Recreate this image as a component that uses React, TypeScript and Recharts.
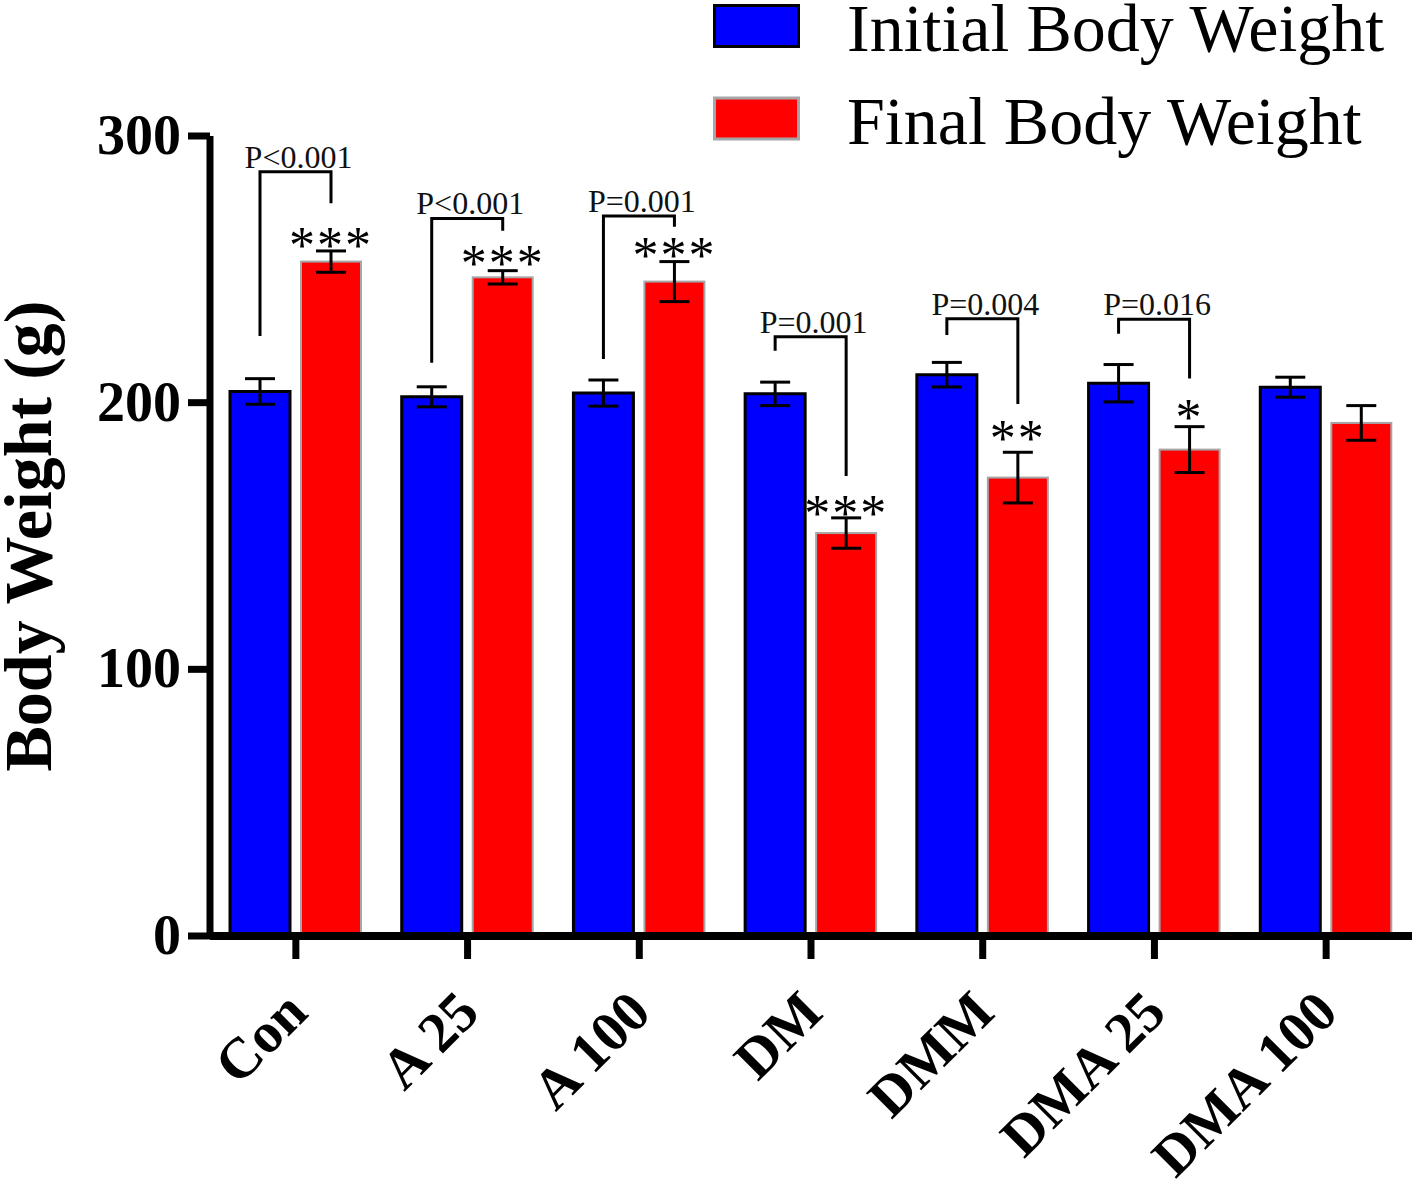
import React from 'react';
import { BarChart, Bar, XAxis, YAxis, ErrorBar, Legend } from 'recharts';

const groups = ['Con', 'A 25', 'A 100', 'DM', 'DMM', 'DMA 25', 'DMA 100'];
const initialWeight = [204.2, 202.2, 203.6, 203.3, 210.5, 207.3, 205.8];
const initialSem = [4.8, 3.75, 4.9, 4.4, 4.6, 7.0, 3.75];
const finalWeight = [252.9, 247.0, 245.4, 151.1, 171.9, 182.4, 192.4];
const finalSem = [4.0, 2.5, 7.5, 5.7, 9.5, 8.6, 6.5];
const pValueLabels = ['P<0.001', 'P<0.001', 'P=0.001', 'P=0.001', 'P=0.004', 'P=0.016', ''];
const bracketTop = [286.6, 269.1, 270.0, 224.7, 231.5, 231.3, null];
const bracketInitialEnd = [225.0, 215.0, 216.4, 219.5, 225.4, 225.8, null];
const bracketFinalEnd = [274.8, 264.5, 266.0, 172.5, 199.5, 209.1, null];
const starMarks = ['***', '***', '***', '***', '**', '*', ''];
const starLevel = [257.3, 250.4, 253.5, 156.8, 185.0, 192.8, null];
const yTicks = [0, 100, 200, 300];
const seriesOrder = ['initial', 'final'];

const data = groups.map((g, i) => ({
  group: g,
  initial: initialWeight[i],
  initialErr: initialSem[i],
  final: finalWeight[i],
  finalErr: finalSem[i],
  pLabel: pValueLabels[i],
  bTop: bracketTop[i],
  bInit: bracketInitialEnd[i],
  bFinal: bracketFinalEnd[i],
  stars: starMarks[i],
  starY: starLevel[i],
}));

const SERIF = '"Liberation Serif", "Times New Roman", serif';
const BLUE = '#0000ff';
const RED = '#ff0000';
const BAR_SIZE = 60;
const BAR_GAP = 11;

const FinalShape = (props: any) => {
  const { x, y, width, height, payload } = props;
  const base = y + height;
  const k = height / payload.final;
  const py = (v: number) => base - v * k;
  const cx = x + width / 2;
  const bx = cx - (BAR_SIZE + BAR_GAP);
  return (
    <g>
      <rect x={x} y={y} width={width} height={height} fill={RED} stroke="#a6a6a6" strokeWidth={2} />
      {payload.bTop != null && (
        <g>
          <path
            d={`M${bx},${py(payload.bInit)} V${py(payload.bTop)} H${cx} V${py(payload.bFinal)}`}
            fill="none"
            stroke="#000"
            strokeWidth={3}
          />
          <text
            x={(bx + cx) / 2 + 3}
            y={py(payload.bTop) - 4}
            textAnchor="middle"
            fontSize={32}
            fontFamily={SERIF}
            fill="#111"
          >
            {payload.pLabel}
          </text>
        </g>
      )}
      {payload.stars && payload.starY != null && (
        <text
          x={cx}
          y={py(payload.starY) + 13}
          textAnchor="middle"
          fontSize={52}
          letterSpacing={2}
          fontFamily={SERIF}
          fill="#000"
        >
          {payload.stars}
        </text>
      )}
    </g>
  );
};

const XTick = (props: any) => {
  const { x, y, payload } = props;
  const ax = x + 14;
  const ay = y + 54;
  return (
    <text
      x={ax}
      y={ay}
      textAnchor="end"
      transform={`rotate(-45, ${ax}, ${ay})`}
      fontSize={57}
      fontWeight="bold"
      fontFamily={SERIF}
      fill="#000"
    >
      {payload.value}
    </text>
  );
};

const YTick = (props: any) => {
  const { x, y, payload } = props;
  return (
    <text
      x={x - 5}
      y={y + 18}
      textAnchor="end"
      fontSize={56}
      fontWeight="bold"
      fontFamily={SERIF}
      fill="#000"
    >
      {payload.value}
    </text>
  );
};

const legendBorder: Record<string, string> = { initial: '#000', final: '#a6a6a6' };
const legendFill: Record<string, string> = { initial: BLUE, final: RED };

const LegendContent = (props: any) => {
  const payload = [...(props.payload || [])].sort(
    (a: any, b: any) => seriesOrder.indexOf(a.dataKey) - seriesOrder.indexOf(b.dataKey)
  );
  return (
    <svg width={718} height={180} style={{ display: 'block', overflow: 'visible' }}>
      {payload.map((e: any, i: number) => {
        const off = i * 92.5;
        const key = e.dataKey as string;
        return (
          <g key={i}>
            <rect
              x={14.5}
              y={5.5 + off}
              width={84}
              height={41}
              fill={legendFill[key] || e.color}
              stroke={legendBorder[key] || '#000'}
              strokeWidth={3}
            />
            <text x={147} y={51 + off} fontSize={68} fontFamily={SERIF} fill="#000">
              {e.value}
            </text>
          </g>
        );
      })}
    </svg>
  );
};

const YLabel = (props: any) => {
  const vb = props.viewBox || { x: 0, y: 136, width: 210, height: 800 };
  const cy = vb.y + vb.height / 2;
  const lx = 51;
  return (
    <text
      x={lx}
      y={cy}
      textAnchor="middle"
      transform={`rotate(-90, ${lx}, ${cy})`}
      fontSize={68}
      fontWeight="bold"
      fontFamily={SERIF}
      fill="#000"
    >
      Body Weight (g)
    </text>
  );
};

export default function App() {
  return (
    <div style={{ position: 'absolute', left: 0, top: 0, width: 1418, height: 1190, background: '#fff' }}>
      <BarChart
        width={1418}
        height={1190}
        data={data}
        margin={{ top: 136, right: 6, bottom: 0, left: 0 }}
        barSize={BAR_SIZE}
        barGap={BAR_GAP}
      >
        <XAxis
          dataKey="group"
          height={254}
          interval={0}
          tickSize={23}
          tickMargin={2}
          axisLine={{ stroke: '#000', strokeWidth: 8 }}
          tickLine={{ stroke: '#000', strokeWidth: 7 }}
          tick={<XTick />}
        />
        <YAxis
          width={210}
          domain={[0, 300]}
          ticks={yTicks}
          interval={0}
          tickSize={22}
          tickMargin={2}
          axisLine={{ stroke: '#000', strokeWidth: 7 }}
          tickLine={{ stroke: '#000', strokeWidth: 7 }}
          tick={<YTick />}
          label={{ content: <YLabel /> }}
        />
        <Legend
          layout="vertical"
          align="center"
          verticalAlign="middle"
          wrapperStyle={{ top: 0, left: 700, width: 718, height: 180 }}
          content={<LegendContent />}
        />
        <Bar
          dataKey="initial"
          name="Initial Body Weight"
          fill={BLUE}
          stroke="#000"
          strokeWidth={3}
          isAnimationActive={false}
        >
          <ErrorBar dataKey="initialErr" width={15} stroke="#000" strokeWidth={3} />
        </Bar>
        <Bar
          dataKey="final"
          name="Final Body Weight"
          fill={RED}
          stroke="#a6a6a6"
          strokeWidth={2}
          shape={<FinalShape />}
          isAnimationActive={false}
        >
          <ErrorBar dataKey="finalErr" width={15} stroke="#000" strokeWidth={3} />
        </Bar>
      </BarChart>
    </div>
  );
}
